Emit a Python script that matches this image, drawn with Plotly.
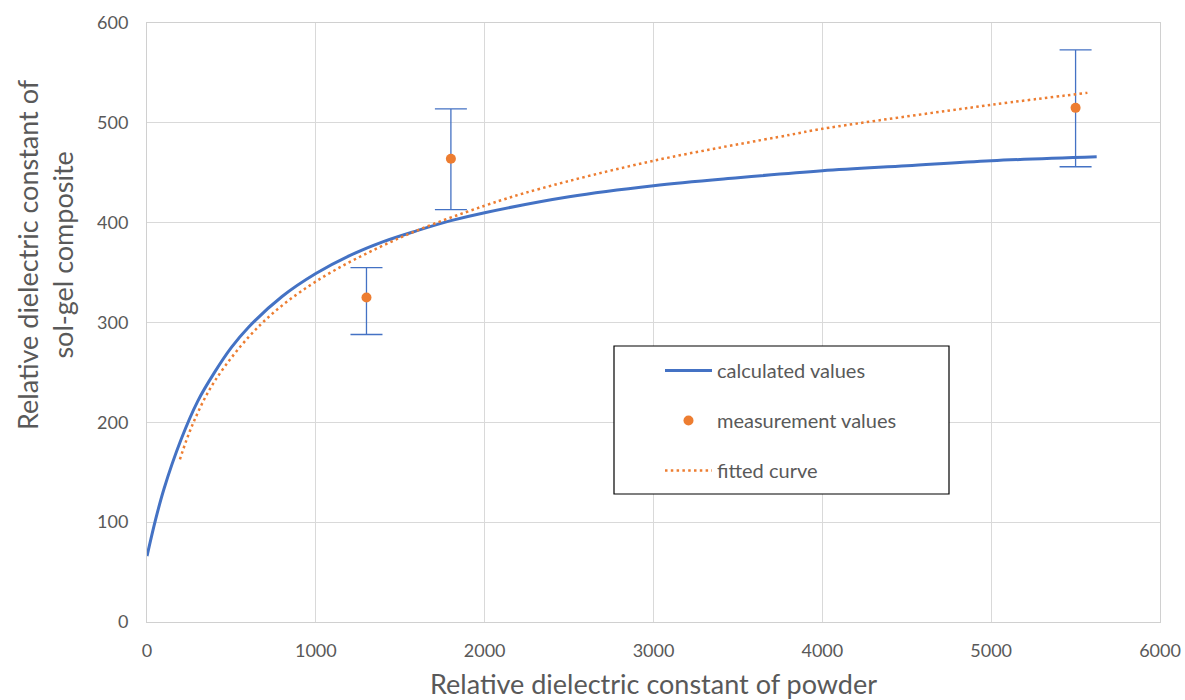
import plotly.graph_objects as go

# calculated values
calc_x = [0, 50, 100, 200, 300, 400, 500, 600, 800, 1000, 1200, 1400, 1600, 1800,
          2000, 2500, 3000, 3500, 4000, 4500, 5000, 5625]
calc_y = [66, 102, 133, 182, 221, 250, 275, 295, 326, 349, 367, 381, 392, 402,
          410, 426, 437, 445, 452, 457, 462, 466]

# measurement values with asymmetric error bars
meas_x = [1300, 1800, 5500]
meas_y = [325, 464, 515]
meas_err_plus = [30, 50, 58]
meas_err_minus = [37, 51, 59]

# fitted curve
fit_x = [195, 268, 400, 673, 1000, 1500, 2000, 2328, 3000, 3809, 4000, 5000, 5570]
fit_y = [163, 197, 241, 298, 341, 385, 417, 434, 462, 488, 494, 518, 530]

x_ticks = [0, 1000, 2000, 3000, 4000, 5000, 6000]
y_ticks = [0, 100, 200, 300, 400, 500, 600]

BLUE = "#4472C4"
ORANGE = "#ED7D31"
TXT = "#595959"
FONT = "Lato"

fig = go.Figure()
fig.add_trace(go.Scatter(
    x=calc_x, y=calc_y, mode="lines", name="calculated values",
    line=dict(color=BLUE, width=3, shape="spline", smoothing=1.0),
    legendgroup="a"))
fig.add_trace(go.Scatter(
    x=meas_x, y=meas_y, mode="markers", name="measurement values",
    marker=dict(color=ORANGE, size=10),
    error_y=dict(type="data", symmetric=False, array=meas_err_plus,
                 arrayminus=meas_err_minus, color=BLUE, thickness=1.3, width=16),
    legendgroup="b"))
fig.add_trace(go.Scatter(
    x=fit_x, y=fit_y, mode="lines", name="fitted curve",
    line=dict(color=ORANGE, width=2.5, dash="2.5px,3.3px", shape="spline", smoothing=1.0),
    legendgroup="c"))

W, H = 1185, 700
L, R, T, B = 147, 25, 23, 78
pw, ph = W - L - R, H - T - B

def px2paper(px, py):
    return (px - L) / pw, (H - B - py) / ph

lx0, ly0 = px2paper(614, 346)
lx1, ly1 = px2paper(949, 494)
fig.add_shape(type="rect", xref="paper", yref="paper", x0=lx0, y0=ly1, x1=lx1, y1=ly0,
              line=dict(color="black", width=1.2), fillcolor="white", layer="above")

tx, ty = px2paper(45, 255)
fig.add_annotation(xref="paper", yref="paper", x=tx, y=ty, textangle=-90,
                   text="Relative dielectric constant of<br>sol-gel composite",
                   showarrow=False, xanchor="center", yanchor="middle",
                   font=dict(family=FONT, size=27, color=TXT))

legx, legy = px2paper(660, 351)
fig.update_layout(
    width=W, height=H,
    margin=dict(l=L, r=R, t=T, b=B, autoexpand=False),
    paper_bgcolor="white", plot_bgcolor="white",
    font=dict(family=FONT, size=18, color=TXT),
    showlegend=True,
    legend=dict(x=legx, y=legy, xanchor="left", yanchor="top",
                bgcolor="rgba(0,0,0,0)", borderwidth=0,
                font=dict(family=FONT, size=20, color=TXT),
                tracegroupgap=21, itemwidth=47),
    xaxis=dict(range=[0, 6000], tickvals=x_ticks, ticktext=[str(v) for v in x_ticks],
               showgrid=True, gridcolor="#d9d9d9", gridwidth=1,
               showline=True, linecolor="#d0d0d0", linewidth=1, mirror=True,
               zeroline=False, ticks="", ticklabelstandoff=12,
               tickfont=dict(family=FONT, size=18, color=TXT),
               title=dict(text="Relative dielectric constant of powder", standoff=17,
                          font=dict(family=FONT, size=27, color=TXT))),
    yaxis=dict(range=[0, 600], tickvals=y_ticks, ticktext=[str(v) for v in y_ticks],
               showgrid=True, gridcolor="#d9d9d9", gridwidth=1,
               showline=True, linecolor="#d0d0d0", linewidth=1, mirror=True,
               zeroline=False, ticks="", ticklabelstandoff=14,
               tickfont=dict(family=FONT, size=18, color=TXT)),
)

fig.write_html("out.html", config={"displayModeBar": False},
               post_script="document.body.style.margin='0';document.body.style.overflow='hidden';")
